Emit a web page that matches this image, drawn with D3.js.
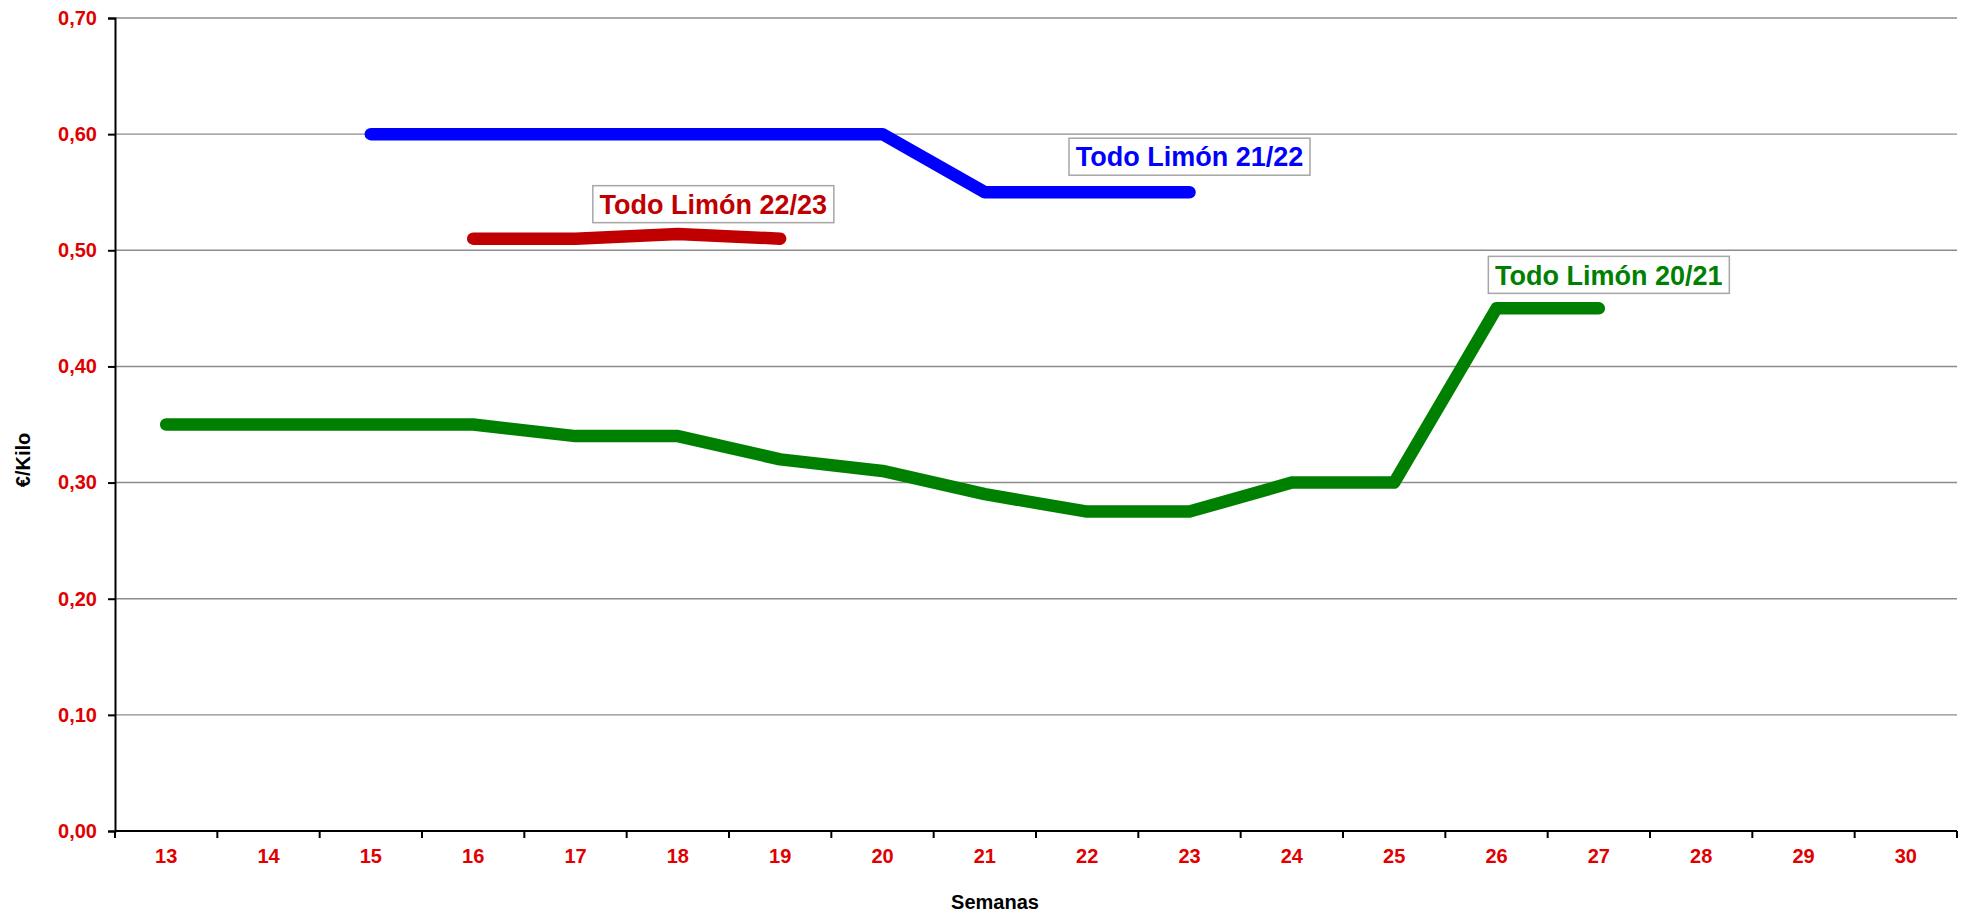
<!DOCTYPE html>
<html>
<head>
<meta charset="utf-8">
<script src="https://cdn.jsdelivr.net/npm/d3@7"></script>
<style>
  body { margin: 0; background: #fff; }
  svg { display: block; font-family: "Liberation Sans", Arial, sans-serif; }
</style>
</head>
<body>
<svg id="chart" width="1964" height="913"></svg>
<script>
// weeks on the x axis
var weeks = [13, 14, 15, 16, 17, 18, 19, 20, 21, 22, 23, 24, 25, 26, 27, 28, 29, 30];
var yTicks = [0, 0.1, 0.2, 0.3, 0.4, 0.5, 0.6, 0.7];

// prices per campaign, [week, €/kilo]
var campaign2021 = [[13, 0.35], [14, 0.35], [15, 0.35], [16, 0.35], [17, 0.34], [18, 0.34],
  [19, 0.32], [20, 0.31], [21, 0.29], [22, 0.275], [23, 0.275], [24, 0.30], [25, 0.30],
  [26, 0.45], [27, 0.45]];
var campaign2122 = [[15, 0.60], [16, 0.60], [17, 0.60], [18, 0.60], [19, 0.60], [20, 0.60],
  [21, 0.55], [22, 0.55], [23, 0.55]];
var campaign2223 = [[16, 0.51], [17, 0.51], [18, 0.514], [19, 0.51]];

var seriesNames = ["Todo Limón 20/21", "Todo Limón 21/22", "Todo Limón 22/23"];

var svg = d3.select("#chart"),
    margin = {top: 18, right: 7, bottom: 82, left: 115},
    width = 1964 - margin.left - margin.right,
    height = 913 - margin.top - margin.bottom,
    g = svg.append("g").attr("transform", `translate(${margin.left},${margin.top})`);

var x = d3.scaleBand().domain(weeks).range([0, width]).padding(0),
    y = d3.scaleLinear().domain([0, 0.7]).range([height, 0]);
var cx = w => x(w) + x.bandwidth() / 2;
var fmt = v => d3.format(".2f")(v).replace(".", ",");
var tickRed = "#e00000";

// gridlines
g.append("g")
  .selectAll("line")
  .data(yTicks.slice(1))
  .enter().append("line")
  .attr("x1", 0).attr("x2", width)
  .attr("y1", d => y(d)).attr("y2", d => y(d))
  .attr("stroke", "#8c8c8c")
  .attr("stroke-width", 1.4);

// y axis
var yAxis = g.append("g")
  .call(d3.axisLeft(y).tickValues(yTicks).tickFormat(fmt).tickSize(7).tickPadding(11));
yAxis.select(".domain").attr("stroke", "#000").attr("stroke-width", 2);
yAxis.selectAll(".tick line").attr("stroke", "#000").attr("stroke-width", 2);
yAxis.selectAll("text")
  .attr("fill", tickRed)
  .style("font-size", "20px")
  .style("font-weight", "bold")
  .style("font-family", "Liberation Sans, Arial, sans-serif");

// x axis: labels centred in each week, ticks on the week boundaries
var xAxis = g.append("g")
  .attr("transform", `translate(0,${height})`)
  .call(d3.axisBottom(x).tickSize(0).tickPadding(18));
xAxis.select(".domain").remove();
xAxis.selectAll("text")
  .attr("fill", tickRed)
  .style("font-size", "20px")
  .style("font-weight", "bold")
  .style("font-family", "Liberation Sans, Arial, sans-serif");

var bounds = weeks.map(w => x(w)).concat([width]);
g.append("line")
  .attr("x1", 0).attr("x2", width)
  .attr("y1", height).attr("y2", height)
  .attr("stroke", "#000").attr("stroke-width", 2);
g.append("g")
  .selectAll("line")
  .data(bounds)
  .enter().append("line")
  .attr("x1", d => d).attr("x2", d => d)
  .attr("y1", height).attr("y2", height + 7)
  .attr("stroke", "#000").attr("stroke-width", 2);

// axis titles
svg.append("text")
  .attr("transform", "translate(30,460) rotate(-90)")
  .attr("text-anchor", "middle")
  .style("font-size", "20px")
  .style("font-weight", "bold")
  .text("€/Kilo");

svg.append("text")
  .attr("x", 995).attr("y", 909)
  .attr("text-anchor", "middle")
  .style("font-size", "20px")
  .style("font-weight", "bold")
  .text("Semanas");

// lines
var line = d3.line().x(d => cx(d[0])).y(d => y(d[1]));
var series = [
  {name: seriesNames[0], data: campaign2021, color: "#008000"},
  {name: seriesNames[1], data: campaign2122, color: "#0000ff"},
  {name: seriesNames[2], data: campaign2223, color: "#c00000"}
];

g.selectAll(".serie")
  .data(series)
  .enter().append("path")
  .attr("class", "serie")
  .attr("d", d => line(d.data))
  .attr("fill", "none")
  .attr("stroke", d => d.color)
  .attr("stroke-width", 12.5)
  .attr("stroke-linecap", "round")
  .attr("stroke-linejoin", "round");

// series labels in boxes, placed relative to a point of each series
var labelSpots = [
  {s: series[0], week: 27, value: 0.45, dx: 10, dy: -33.5},
  {s: series[1], week: 23, value: 0.55, dx: 0, dy: -35.5},
  {s: series[2], week: 18, value: 0.51, dx: 35.5, dy: -34.5}
];

labelSpots.forEach(function(l) {
  var lg = g.append("g")
    .attr("transform", `translate(${cx(l.week) + l.dx},${y(l.value) + l.dy})`);
  lg.append("rect")
    .attr("x", -120.5).attr("y", -18.5)
    .attr("width", 241).attr("height", 37)
    .attr("fill", "#fff")
    .attr("stroke", "#a6a6a6")
    .attr("stroke-width", 1.5);
  lg.append("text")
    .attr("text-anchor", "middle")
    .attr("dy", "0.36em")
    .attr("fill", l.s.color)
    .style("font-size", "27px")
    .style("font-weight", "bold")
    .text(l.s.name);
});
</script>
</body>
</html>
